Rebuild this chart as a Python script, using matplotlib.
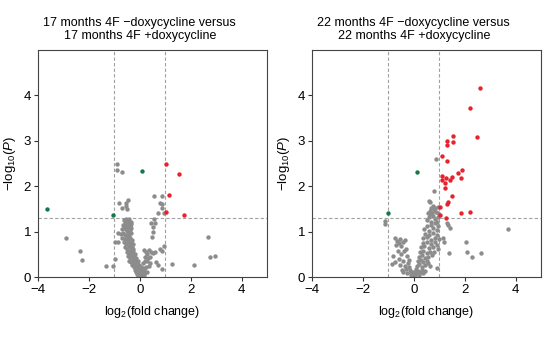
import numpy as np
import matplotlib
matplotlib.use('Agg')
import matplotlib.pyplot as plt

plt.rcParams['font.family'] = ['Liberation Sans', 'DejaVu Sans']
plt.rcParams['mathtext.fontset'] = 'custom'
plt.rcParams['mathtext.rm'] = 'Liberation Sans'
plt.rcParams['mathtext.it'] = 'Liberation Sans:italic'

# 17 months panel (log2 fold change, -log10 P)
m17_gray = np.array([
    (-0.91, 2.50), (-0.88, 2.36), (-0.71, 2.31),
    (-0.45, 1.69), (-0.81, 1.62), (-0.54, 1.64), (-0.68, 1.52), (-0.56, 1.57), (-0.49, 1.50),
    (0.56, 1.79), (0.89, 1.78), (0.79, 1.64), (0.89, 1.60), (0.87, 1.52), (0.97, 1.40), (0.73, 1.41),
    (0.56, 1.27), (0.44, 1.18), (0.58, 1.19), (0.52, 1.10), (0.50, 0.99), (0.47, 0.88),
    (-2.89, 0.86), (-2.34, 0.57), (-2.28, 0.37), (-1.31, 0.24), (-1.05, 0.25), (-0.98, 0.40),
    (-0.99, 0.77), (-0.85, 0.98),
    (2.69, 0.88), (2.76, 0.43), (2.95, 0.47), (2.13, 0.26), (1.27, 0.28), (0.88, 0.17),
    (0.96, 0.69), (0.81, 0.62), (0.86, 0.58), (0.73, 0.27), (0.64, 0.33),
    (0.58, 0.55), (0.50, 0.52), (0.43, 0.55), (0.36, 0.60), (0.30, 0.50), (0.25, 0.56),
    (0.40, 0.45), (0.33, 0.42), (0.22, 0.45), (0.16, 0.60), (0.28, 0.36), (0.20, 0.35),
    (0.14, 0.30), (0.35, 0.25), (0.25, 0.22), (0.18, 0.18), (0.12, 0.20), (0.30, 0.12),
    (0.22, 0.10), (0.15, 0.07), (0.08, 0.12), (0.40, 0.30),
    (-0.62, 1.25), (-0.55, 1.28), (-0.48, 1.24), (-0.42, 1.27), (-0.36, 1.22), (-0.58, 1.20), (-0.50, 1.21),
    (-0.66, 1.15), (-0.57, 1.17), (-0.50, 1.13), (-0.44, 1.18), (-0.38, 1.12), (-0.33, 1.16), (-0.60, 1.11),
    (-0.70, 1.05), (-0.62, 1.08), (-0.52, 1.02), (-0.46, 1.07), (-0.40, 1.04), (-0.35, 1.09), (-0.56, 1.06),
    (-0.74, 0.95), (-0.65, 0.98), (-0.58, 0.93), (-0.48, 0.96), (-0.42, 0.91), (-0.36, 0.97),
    (-0.70, 0.86), (-0.60, 0.83), (-0.52, 0.88), (-0.45, 0.82), (-0.38, 0.86), (-0.32, 0.81),
    (-0.84, 0.76), (-0.62, 0.78), (-0.55, 0.73), (-0.47, 0.77), (-0.40, 0.71), (-0.34, 0.75), (-0.28, 0.72),
    (-0.58, 0.66), (-0.50, 0.62), (-0.42, 0.68), (-0.36, 0.63), (-0.30, 0.67), (-0.25, 0.61),
    (-0.52, 0.56), (-0.44, 0.52), (-0.38, 0.58), (-0.32, 0.53), (-0.26, 0.57), (-0.20, 0.51),
    (-0.48, 0.46), (-0.40, 0.42), (-0.33, 0.47), (-0.27, 0.43), (-0.22, 0.48), (-0.16, 0.41),
    (-0.42, 0.36), (-0.35, 0.32), (-0.28, 0.38), (-0.22, 0.33), (-0.17, 0.37), (-0.12, 0.31), (-0.06, 0.35),
    (-0.30, 0.27), (-0.24, 0.22), (-0.18, 0.28), (-0.13, 0.24), (-0.08, 0.21), (-0.03, 0.26), (0.03, 0.23),
    (-0.20, 0.16), (-0.14, 0.12), (-0.09, 0.18), (-0.05, 0.13), (0.00, 0.17), (0.05, 0.11), (0.10, 0.15),
    (-0.10, 0.06), (-0.06, 0.02), (-0.02, 0.08), (0.02, 0.04), (0.06, 0.07), (0.12, 0.03), (0.18, 0.05),
    (0.00, 0.01), (-0.04, 0.04),
])
m17_up = np.array([(1.04, 2.49), (1.56, 2.26), (1.13, 1.80), (1.05, 1.44), (1.75, 1.36)])
m17_down = np.array([(-3.65, 1.50), (-1.05, 1.36), (0.07, 2.33)])

# 22 months panel
m22_gray = np.array([
    (0.89, 2.61), (0.79, 1.89), (0.63, 1.66), (0.60, 1.67), (0.76, 1.56), (0.84, 1.52), (0.95, 1.55),
    (-1.12, 1.24), (-1.15, 1.16),
    (3.71, 1.05), (2.05, 0.77), (2.10, 0.54), (2.30, 0.45), (2.64, 0.52), (1.40, 0.52),
    (1.29, 1.19), (1.36, 1.14), (1.42, 1.08), (1.15, 0.86), (1.17, 0.77), (0.91, 0.20),
    (-0.75, 0.85), (-0.66, 0.80), (-0.55, 0.83), (-0.42, 0.77), (-0.35, 0.81), (-0.71, 0.71),
    (-0.49, 0.68), (-0.62, 0.57), (-0.81, 0.46), (-0.75, 0.32), (-0.38, 0.57), (-0.26, 0.46),
    (-0.42, 0.35), (-0.55, 0.27), (-0.22, 0.31), (-0.31, 0.18), (-0.42, 0.10), (-0.16, 0.16),
    (-0.09, 0.09), (0.00, 0.03), (-0.60, 0.40), (-0.50, 0.50), (-0.30, 0.62), (-0.20, 0.22),
    (-0.35, 0.25), (-0.48, 0.15), (-0.25, 0.08), (-0.12, 0.04), (-0.05, 0.12), (-0.18, 0.38),
    (-0.58, 0.75), (-0.85, 0.28),
    (0.55, 1.42), (0.64, 1.45), (0.72, 1.40), (0.80, 1.48), (0.88, 1.44), (0.96, 1.41), (0.68, 1.52),
    (0.50, 1.25), (0.58, 1.32), (0.66, 1.22), (0.74, 1.35), (0.82, 1.28), (0.90, 1.22), (0.97, 1.33), (0.62, 1.38),
    (0.42, 1.05), (0.50, 1.12), (0.58, 1.02), (0.66, 1.15), (0.74, 1.08), (0.82, 1.18), (0.90, 1.04), (0.97, 1.12),
    (0.38, 0.85), (0.45, 0.95), (0.52, 0.88), (0.60, 0.92), (0.68, 0.82), (0.76, 0.97), (0.84, 0.86),
    (0.92, 0.93), (0.99, 0.84),
    (0.28, 0.65), (0.35, 0.75), (0.42, 0.68), (0.50, 0.78), (0.58, 0.63), (0.66, 0.72), (0.74, 0.66),
    (0.82, 0.76), (0.90, 0.70), (0.97, 0.62),
    (0.20, 0.45), (0.26, 0.55), (0.32, 0.48), (0.38, 0.58), (0.44, 0.42), (0.50, 0.52), (0.56, 0.44),
    (0.62, 0.56), (0.70, 0.48), (0.78, 0.54),
    (0.12, 0.25), (0.17, 0.35), (0.22, 0.28), (0.28, 0.38), (0.33, 0.22), (0.38, 0.32), (0.44, 0.26),
    (0.50, 0.36), (0.56, 0.30), (0.63, 0.24),
    (0.03, 0.05), (0.06, 0.12), (0.09, 0.18), (0.13, 0.08), (0.18, 0.14), (0.22, 0.04), (0.27, 0.10),
    (0.32, 0.16), (0.38, 0.08), (0.44, 0.13),
])
m22_up = np.array([
    (2.59, 4.16), (2.22, 3.73), (2.47, 3.08), (1.56, 3.10), (1.31, 2.99), (1.55, 2.98), (1.30, 2.91),
    (1.12, 2.67), (1.31, 2.56), (1.90, 2.35), (1.75, 2.30), (1.86, 2.19), (1.52, 2.21), (1.44, 2.14),
    (1.12, 2.23), (1.27, 2.17), (1.10, 2.14), (1.23, 2.08), (1.21, 1.97), (1.50, 1.78), (1.35, 1.66),
    (1.31, 1.60), (1.02, 1.54), (1.05, 1.36), (1.27, 1.31), (1.84, 1.40), (2.22, 1.44),
])
m22_down = np.array([(0.14, 2.31), (-1.01, 1.42)])

titles = ['17 months 4F \u2212doxycycline versus\n17 months 4F +doxycycline',
          '22 months 4F \u2212doxycycline versus\n22 months 4F +doxycycline']
panels = [(m17_gray, m17_up, m17_down), (m22_gray, m22_up, m22_down)]

fig = plt.figure(figsize=(5.45, 3.41), dpi=100)
lefts = [38 / 545, 312 / 545]

for i, (gray, up, down) in enumerate(panels):
    ax = fig.add_axes([lefts[i], 64 / 341, 229 / 545, 227 / 341])
    ax.axvline(-1, color='#a0a0a0', lw=0.8, ls=(0, (3, 2)), zorder=1)
    ax.axvline(1, color='#a0a0a0', lw=0.8, ls=(0, (3, 2)), zorder=1)
    ax.axhline(1.3, color='#a0a0a0', lw=0.8, ls=(0, (3, 2)), zorder=1)
    ax.scatter(gray[:, 0], gray[:, 1], s=10, color='#8c8c8c', linewidths=0, zorder=2)
    ax.scatter(up[:, 0], up[:, 1], s=10, color='#e8212b', linewidths=0, zorder=3)
    ax.scatter(down[:, 0], down[:, 1], s=10, color='#14784a', linewidths=0, zorder=3)
    ax.set_xlim(-4, 5)
    ax.set_ylim(0, 5)
    ax.set_xticks([-4, -2, 0, 2, 4])
    ax.set_xticklabels(['\u22124', '\u22122', '0', '2', '4'])
    ax.set_yticks([0, 1, 2, 3, 4])
    ax.tick_params(labelsize=9.5, length=3, width=0.8, color='#333333', pad=2)
    for sp in ax.spines.values():
        sp.set_color('#444444')
        sp.set_linewidth(0.8)
    ax.set_xlabel('log$_2$(fold change)', fontsize=9, labelpad=6)
    ax.set_ylabel('\u2212log$_{10}$($\\it{P}$)', fontsize=9.5, labelpad=4)
    ax.text(0, 1.035, titles[i], transform=ax.get_xaxis_transform(), ha='center', va='bottom',
            fontsize=9, linespacing=1.15)

fig.savefig('out.png', dpi=100)
